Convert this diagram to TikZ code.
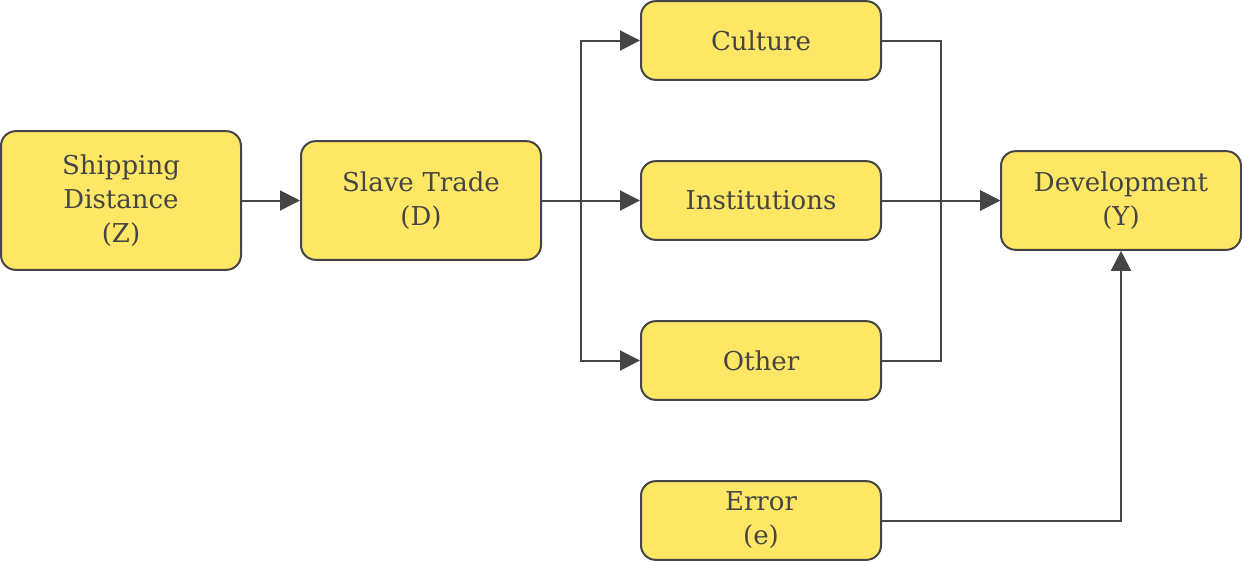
\documentclass[tikz,border=0pt]{standalone}
\usepackage{fontspec}
\setmainfont{DejaVu Serif}
\usepackage{tikz}
\usepackage{xcolor}
\usetikzlibrary{arrows.meta}

\definecolor{boxfill}{HTML}{FFE766}
\definecolor{ink}{HTML}{454545}

\tikzset{
  var/.style={draw=ink, fill=boxfill, line width=1.5pt, rounded corners=11pt,
    minimum width=180pt, text width=170pt, align=center, text=ink,
    font=\fontsize{19.5}{25.5}\selectfont},
  link/.style={draw=ink, line width=1.5pt, -{Triangle[length=15pt,width=15pt]}}
}

\begin{document}
\begin{tikzpicture}[x=0.75pt,y=-0.75pt]
\useasboundingbox (0,0) rectangle (1242,562);

\node[var, minimum height=104pt] (Z) at (121,200.5) {Shipping\\Distance\\(Z)};
\node[var, minimum height=89pt] (D) at (421,200.5) {Slave Trade\\(D)};
\node[var, minimum height=59pt] (cult) at (761,40.5) {Culture};
\node[var, minimum height=59pt] (inst) at (761,200.5) {Institutions};
\node[var, minimum height=59pt] (other) at (761,360.5) {Other};
\node[var, minimum height=59pt] (err) at (761,520.5) {Error\\(e)};
\node[var, minimum height=74pt] (Y) at (1121,200.5) {Development\\(Y)};

\draw[link] (Z) -- (D);
\draw[link] (D.east) -- ++(39,0) |- (cult.west);
\draw[link] (D) -- (inst);
\draw[link] (D.east) -- ++(39,0) |- (other.west);

\draw[link] (cult.east) -- ++(59,0) |- (Y.west);
\draw[link] (inst) -- (Y);
\draw[link] (other.east) -- ++(59,0) |- (Y.west);
\draw[link] (err.east) -| (Y.south);
\end{tikzpicture}
\end{document}
